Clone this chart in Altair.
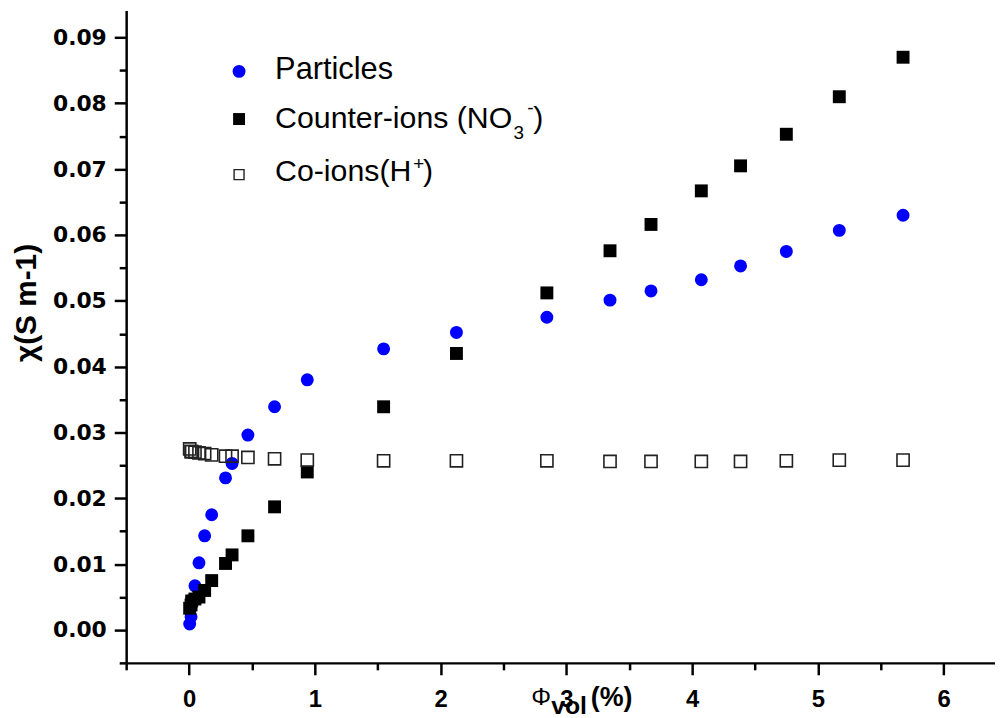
import altair as alt
import pandas as pd

# ---- data ----
phi = [0.005, 0.016, 0.021, 0.047, 0.079, 0.124, 0.18, 0.29, 0.342, 0.468, 0.68, 0.94,
       1.547, 2.126, 2.845, 3.347, 3.673, 4.073, 4.385, 4.749, 5.17, 5.677]
particles = [0.0009, 0.0020, 0.0046, 0.0067, 0.0102, 0.0143, 0.0175, 0.0231, 0.0253, 0.0296,
             0.0339, 0.0380, 0.0427, 0.0452, 0.0475, 0.0501, 0.0515, 0.0532, 0.0553, 0.0575,
             0.0607, 0.0630]
counter_ions = [0.0033, 0.0038, 0.0044, 0.0047, 0.0050, 0.0060, 0.0075, 0.0101, 0.0114, 0.0143,
                0.0187, 0.0240, 0.0339, 0.0420, 0.0512, 0.0576, 0.0616, 0.0667, 0.0705, 0.0753,
                0.0810, 0.0870]
co_ions = [0.0275, 0.0271, 0.0271, 0.0270, 0.0269, 0.0268, 0.0266, 0.0264, 0.0264, 0.0262,
           0.0260, 0.0258, 0.0257, 0.0257, 0.0257, 0.0256, 0.0256, 0.0256, 0.0256, 0.0257,
           0.0258, 0.0258]

x_major = [0, 1, 2, 3, 4, 5, 6]
x_minor = [-0.5, 0.5, 1.5, 2.5, 3.5, 4.5, 5.5]
y_major = [0.0, 0.01, 0.02, 0.03, 0.04, 0.05, 0.06, 0.07, 0.08, 0.09]
y_minor = [-0.005, 0.005, 0.015, 0.025, 0.035, 0.045, 0.055, 0.065, 0.075, 0.085]

df = pd.DataFrame({"phi": phi, "particles": particles,
                   "counter_ions": counter_ions, "co_ions": co_ions})
one = pd.DataFrame({"k": [0]})

SANS = "Liberation Sans, Arial, sans-serif"
xscale = alt.Scale(domain=[-0.5, 6.408], nice=False, zero=False)
yscale = alt.Scale(domain=[-0.005, 0.0941], nice=False, zero=False)

common = dict(grid=False, tickColor="black", tickWidth=2.5, domainColor="black",
              domainWidth=2.5, labelColor="black")

ax_x_major = alt.Axis(orient="bottom", values=x_major, tickSize=12, labelFont=SANS,
                      labelFontSize=24, labelFontWeight="bold", labelPadding=13,
                      labelFlush=False, labelOverlap=False, title=None, **common)
ax_x_minor = alt.Axis(orient="bottom", values=x_minor, tickSize=7, labels=False,
                      domain=False, title=None, grid=False, tickColor="black", tickWidth=2.5)
ax_y_major = alt.Axis(orient="left", values=y_major, format=".2f", tickSize=12,
                      labelFont="DejaVu Sans", labelFontSize=22, labelFontWeight="bold",
                      labelPadding=8, labelFlush=False, labelOverlap=False,
                      title="χ(S m-1)", titleFont=SANS, titleFontSize=30,
                      titleFontWeight="bold", titleColor="black", titleAngle=270,
                      titleX=-85, titleY=294, titleAlign="center", **common)
ax_y_minor = alt.Axis(orient="left", values=y_minor, tickSize=7, labels=False,
                      domain=False, title=None, grid=False, tickColor="black", tickWidth=2.5)

base = alt.Chart(df)

minor = base.mark_point(opacity=0).encode(
    x=alt.X("phi:Q", scale=xscale, axis=ax_x_minor),
    y=alt.Y("particles:Q", scale=yscale, axis=ax_y_minor),
)
blue = base.mark_circle(color="#0000ff", size=170, opacity=1).encode(
    x=alt.X("phi:Q", scale=xscale, axis=ax_x_major),
    y=alt.Y("particles:Q", scale=yscale, axis=ax_y_major),
)
black = base.mark_square(color="#000000", size=169, opacity=1).encode(
    x=alt.X("phi:Q", scale=xscale, axis=None),
    y=alt.Y("counter_ions:Q", scale=yscale, axis=None),
)
openq = base.mark_point(shape="square", filled=False, color="#222222", size=150,
                        strokeWidth=1.6, opacity=1).encode(
    x=alt.X("phi:Q", scale=xscale, axis=None),
    y=alt.Y("co_ions:Q", scale=yscale, axis=None),
)

# ---- legend (hand-made for sub/superscripts) ----
def txt(s, x, y, size, weight="normal", font=SANS):
    return alt.Chart(one).mark_text(text=s, align="left", baseline="alphabetic", font=font,
                                    fontSize=size, fontWeight=weight, color="black").encode(
        x=alt.value(x), y=alt.value(y))

leg_c = alt.Chart(one).mark_circle(color="#0000ff", size=170, opacity=1).encode(
    x=alt.value(113.7), y=alt.value(61.3))
leg_s = alt.Chart(one).mark_square(color="#000000", size=144, opacity=1).encode(
    x=alt.value(113.7), y=alt.value(109.3))
leg_o = alt.Chart(one).mark_point(shape="square", filled=False, color="#222222", size=100,
                                  strokeWidth=1.4, opacity=1).encode(
    x=alt.value(113.7), y=alt.value(165.3))

texts = [
    txt("Particles", 150, 69.3, 31),
    txt("Counter-ions (NO", 150, 118, 30.5),
    txt("3", 390, 129, 19),
    txt("-", 404, 104, 19),
    txt(")", 410, 118, 30.5),
    txt("Co-ions(H", 150, 171.3, 30.5),
    txt("+", 289, 161, 19),
    txt(")", 299, 171.3, 30.5),
    # x-axis title  Φ_vol(%)
    txt("Φ", 408, 699, 25),
    txt("vol", 428, 708, 25, "bold"),
    txt("(%)", 468, 700, 27, "bold"),
]

chart = alt.layer(minor, blue, black, openq, leg_c, leg_s, leg_o, *texts).resolve_axis(
    x="independent", y="independent"
).properties(
    width=875, height=657,
    autosize=alt.AutoSizeParams(type="none"),
    padding={"left": 119, "top": 0, "right": 0, "bottom": 52},
    background="white",
).configure_view(stroke=None)

chart.save("out.html", embed_options={"renderer": "svg", "actions": False})
